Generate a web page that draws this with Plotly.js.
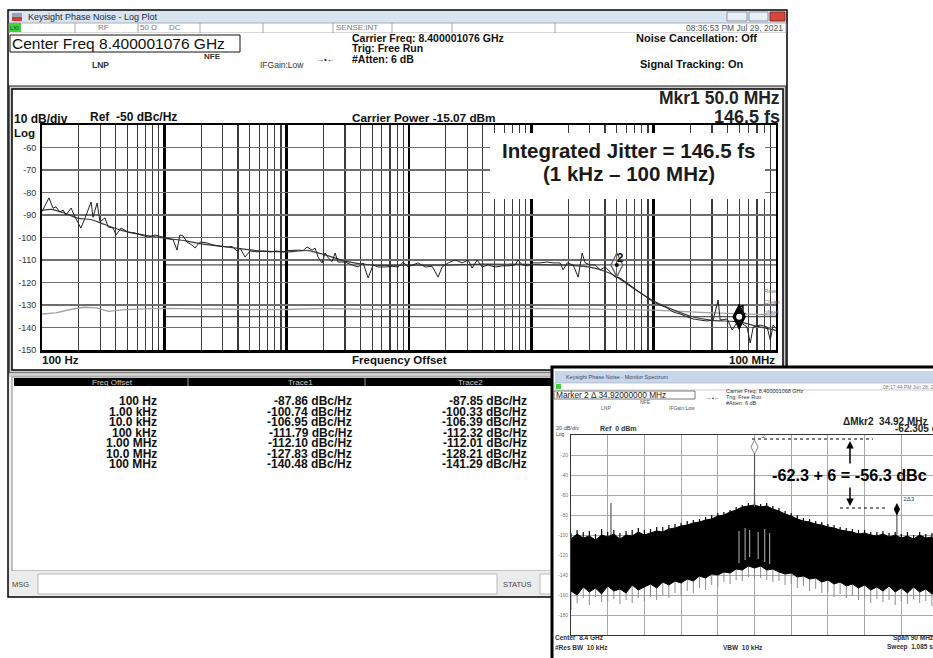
<!DOCTYPE html>
<html><head><meta charset="utf-8">
<script src="https://cdn.plot.ly/plotly-3.0.1.min.js"></script>
<style>html,body{margin:0;padding:0;background:#fff;}#chart{width:933px;height:658px;}</style>
</head><body><div id="chart"></div>
<script>
// ---------------- Main phase-noise log plot data ----------------
const trace1Freq = [100,114,123,130,140,149,157,173,186,208,225,252,261,282,298,327,347,381,403,443,505,576,645,736,839,940,1030,1180,1270,1340,1420,1530,1680,1780,1960,2230,2500,2850,3260,3580,3930,4160,4570,5020,5730,6410,7310,8340,9350,10260,11070,12390,13620,14690,16140,17070,18070,19470,20610,21830,23500,24890,26310,30060,34280,38370,42170,46340,50860,55860,63800,72780,81470,89530,98390,108100,118700,135500,154500,173000,186600,208900,238300,271800,304200,328100,360500,396100,443600,505800,576800,645700,737400,779800,841300,941600,1035000,1180000,1346000,1507000,1718000,1819000,1963000,2197000,2415000,2602000,2754000,3027000,3327000,3656000,4012000,4406000,4840000,5321000,6067000,6792000,7745000,8845000,9908000,11300000,12880000,14430000,16470000,18790000,21040000,23990000,27350000,30630000,33650000,34990000,39900000,43850000,48180000,50930000,58070000,61490000,65160000,74300000,84720000,89740000,94840000,100000000];
const trace1Level = [-88.5,-82.4,-87.0,-86.4,-88.7,-87.8,-90.0,-86.9,-90.9,-95.8,-91.3,-84.2,-91.0,-84.7,-93.0,-91.3,-95.3,-95.8,-98.9,-95.8,-97.6,-98.0,-98.9,-99.8,-98.9,-99.8,-100.2,-101.0,-105.6,-98.9,-99.2,-102.0,-103.3,-104.7,-102.0,-102.4,-103.3,-103.8,-104.2,-104.0,-106.0,-104.7,-108.7,-106.0,-106.4,-106.0,-106.4,-106.0,-106.4,-105.8,-105.6,-105.6,-105.8,-104.2,-105.6,-104.7,-108.7,-111.3,-106.9,-109.0,-110.7,-106.9,-110.9,-110.9,-112.2,-113.1,-111.3,-118.0,-112.2,-113.1,-113.1,-112.8,-113.1,-111.0,-113.0,-112.2,-111.3,-113.1,-112.8,-117.6,-113.1,-111.3,-110.0,-111.3,-110.0,-113.6,-110.0,-113.1,-112.2,-113.1,-112.6,-112.6,-112.2,-110.0,-112.2,-112.6,-111.3,-111.3,-110.9,-111.3,-111.3,-114.4,-111.3,-112.2,-117.6,-106.9,-111.3,-112.2,-112.2,-114.4,-113.1,-115.3,-117.6,-118.0,-120.2,-122.4,-124.7,-126.9,-128.7,-130.0,-131.3,-133.1,-134.0,-135.3,-136.2,-136.7,-137.1,-136.7,-127.8,-136.7,-136.2,-141.1,-137.6,-137.6,-139.8,-146.9,-139.8,-138.9,-139.8,-145.6,-138.9,-140.5];
const trace2Freq = [100,120,150,200,250,300,400,500,700,1000,1500,2000,3000,5000,7000,10000,15000,20000,30000,50000,100000,200000,400000,1000000,2000000,3000000,4000000,5000000,7000000,10000000,15000000,20000000,30000000,50000000,70000000,100000000];
const trace2Level = [-87.9,-87.5,-89.0,-91.5,-92.0,-93.5,-96.0,-97.5,-99.0,-100.3,-101.5,-102.8,-104.0,-105.5,-106.2,-106.4,-105.8,-107.5,-110.5,-112.3,-112.3,-112.3,-111.8,-112.0,-112.3,-113.2,-115.0,-117.5,-123.0,-128.2,-132.5,-135.0,-136.8,-137.5,-139.5,-141.3];
const floorFreq = [100,130,170,220,280,350,450,600,1000,2000,5000,10000,20000,50000,100000,300000,1000000,3000000,10000000,30000000,100000000];
const floorLevel = [-134.0,-133.5,-132.0,-131.0,-131.3,-132.8,-132.2,-131.8,-131.5,-131.8,-132.0,-132.0,-131.5,-132.0,-131.7,-132.0,-131.5,-131.8,-132.3,-133.5,-134.5];
const markerFreq = [50000000, 5000000];
const markerLevel = [-135.2, -112.2];
const markerName = ['1', '2'];
const integStart = 1000, integStop = 100000000;
const yTicks = [-60,-70,-80,-90,-100,-110,-120,-130,-140,-150];

// ---------------- Table ----------------
const tableFreq = ['100 Hz','1.00 kHz','10.0 kHz','100 kHz','1.00 MHz','10.0 MHz','100 MHz'];
const tableTrace1 = ['-87.86 dBc/Hz','-100.74 dBc/Hz','-106.95 dBc/Hz','-111.79 dBc/Hz','-112.10 dBc/Hz','-127.83 dBc/Hz','-140.48 dBc/Hz'];
const tableTrace2 = ['-87.85 dBc/Hz','-100.33 dBc/Hz','-106.39 dBc/Hz','-112.32 dBc/Hz','-112.01 dBc/Hz','-128.21 dBc/Hz','-141.29 dBc/Hz'];

// ---------------- Inset monitor spectrum (offset from 8.4 GHz, MHz) ----------------
const insetOffset = [-45,-43.5,-42,-40.5,-39,-37.5,-36,-34.5,-33,-31.5,-30,-28.5,-27,-25.5,-24,-22.5,-21,-19.5,-18,-16.5,-15,-13.5,-12,-10.5,-9,-7.5,-6,-4.5,-3,-1.5,0,1.5,3,4.5,6,7.5,9,10.5,12,13.5,15,16.5,18,19.5,21,22.5,24,25.5,27,28.5,30,31.5,33,34.5,36,37.5,39,40.5,42,43.5,45];
const insetUpper = [-104,-99,-103,-101,-105,-100,-102,-99,-104,-100,-101,-97,-100,-98,-96,-97,-94,-93,-91,-90,-88,-87,-85,-84,-81,-80,-77,-75,-72,-71,-70,-72,-71,-74,-76,-79,-81,-84,-86,-87,-89,-90,-92,-93,-95,-96,-97,-99,-98,-100,-101,-99,-102,-100,-103,-101,-104,-100,-103,-102,-104];
const insetSpikeHigh = [-98,-95,-97,-96,-99,-94,-97,-95,-98,-96,-95,-93,-95,-94,-92,-92,-90,-89,-88,-86,-85,-84,-82,-80,-78,-77,-75,-72,-70,-68,-67,-69,-68,-71,-73,-76,-78,-80,-83,-84,-86,-87,-89,-90,-92,-93,-94,-95,-95,-97,-97,-96,-98,-97,-99,-97,-100,-97,-99,-98,-100];
const insetLower = [-156,-160,-152,-157,-153,-159,-151,-156,-154,-158,-150,-155,-152,-149,-153,-147,-150,-146,-148,-144,-146,-141,-143,-139,-140,-137,-138,-134,-135,-131,-133,-131,-135,-134,-137,-139,-138,-142,-141,-144,-143,-147,-145,-149,-147,-151,-149,-153,-150,-155,-152,-156,-151,-157,-153,-158,-152,-157,-154,-159,-155];
const insetSpikeLow = [-175,-168,-163,-170,-162,-167,-166,-164,-169,-165,-168,-163,-166,-162,-165,-160,-163,-158,-161,-156,-158,-153,-155,-150,-152,-147,-149,-145,-146,-142,-144,-143,-145,-147,-146,-150,-149,-153,-151,-156,-154,-158,-157,-162,-159,-163,-161,-165,-163,-168,-164,-167,-165,-170,-166,-169,-164,-168,-166,-171,-167];
const innerSpurOffset = [-3.8,-2.3,-1.2,0.9,2.5,3.7];
const innerSpurTop = [-96,-93,-95,-97,-94,-98];
const innerSpurBottom = [-128,-125,-122,-124,-127,-129];
const carrierOffset = 0, carrierPeak = -12;
const spurOffset = -35.2, spurPeak = -68, spurBase = -100;
const deltaOffset = 34.92, deltaLevel = -74.3, deltaBase = -100;
const insetYTicks = [-20,-40,-60,-80,-100,-120,-140,-160,-180];

// ---------------- helpers ----------------
const W = 933, H = 658;
const F = 'Liberation Sans, Arial, sans-serif';
const px = v => v / W, py = v => 1 - v / H;
function A(text, x, y, size, o) {
  o = o || {};
  return {xref:'paper', yref:'paper', x:px(x), y:py(y), text:text, showarrow:false,
    xanchor:o.xa || 'left', yanchor:o.ya || 'middle', borderpad:0, borderwidth:0,
    font:{family:F, size:size, color:o.c || '#111', weight:o.b ? 'bold' : 'normal'}};
}
function R(x0, y0, x1, y1, fill, line, lw, layer) {
  return {type:'rect', xref:'paper', yref:'paper', x0:px(x0), x1:px(x1), y0:py(y0), y1:py(y1),
    fillcolor:fill, line:{color:line || 'rgba(0,0,0,0)', width:lw || 0}, layer:layer || 'below'};
}
function L(x0, y0, x1, y1, color, w, dash, layer) {
  return {type:'line', xref:'paper', yref:'paper', x0:px(x0), x1:px(x1), y0:py(y0), y1:py(y1),
    line:{color:color, width:w, dash:dash || 'solid'}, layer:layer || 'below'};
}

// ---------------- traces ----------------
const traces = [];
traces.push({x:floorFreq, y:floorLevel, xaxis:'x', yaxis:'y', mode:'lines', line:{color:'#a0a0a0', width:1.3}, hoverinfo:'skip'});
traces.push({x:trace2Freq, y:trace2Level, xaxis:'x', yaxis:'y', mode:'lines', line:{color:'#3a3a3a', width:1.2, shape:'spline', smoothing:0.6}, hoverinfo:'skip'});
traces.push({x:trace1Freq, y:trace1Level, xaxis:'x', yaxis:'y', mode:'lines', line:{color:'#222', width:1}, hoverinfo:'skip'});
traces.push({x:[markerFreq[1]], y:[markerLevel[1]], xaxis:'x', yaxis:'y', mode:'markers',
  marker:{symbol:'diamond-tall', size:17, color:'rgba(255,255,255,0.2)', line:{color:'#666', width:1.3}}});
traces.push({x:[markerFreq[1]], y:[markerLevel[1]], xaxis:'x', yaxis:'y', mode:'markers', marker:{symbol:'circle', size:4, color:'#000'}});
traces.push({x:[markerFreq[0]], y:[markerLevel[0]], xaxis:'x', yaxis:'y', mode:'markers',
  marker:{symbol:'diamond-tall', size:18, color:'#000', line:{color:'#000', width:1}}});
traces.push({x:[markerFreq[0]], y:[markerLevel[0]], xaxis:'x', yaxis:'y', mode:'markers', marker:{symbol:'circle', size:6, color:'#fff'}});
traces.push({x:markerFreq, y:markerLevel, xaxis:'x', yaxis:'y', mode:'text', text:markerName,
  textposition:'top right', textfont:{family:F, size:12, color:'#111', weight:'bold'}});

// inset: gray spikes below the noise mass
const spX = [], spY = [];
insetOffset.forEach((o, i) => { spX.push(o, o, null); spY.push(insetLower[i], insetSpikeLow[i], null); });
traces.push({x:spX, y:spY, xaxis:'x2', yaxis:'y2', mode:'lines', line:{color:'#8c8c8c', width:1}, connectgaps:false, hoverinfo:'skip'});
// noise mass
traces.push({x:insetOffset, y:insetLower, xaxis:'x2', yaxis:'y2', mode:'lines', line:{color:'#000', width:1}, hoverinfo:'skip'});
traces.push({x:insetOffset, y:insetUpper, xaxis:'x2', yaxis:'y2', mode:'lines', fill:'tonexty', fillcolor:'#000', line:{color:'#000', width:1}, hoverinfo:'skip'});
// black spikes on top of the mass
const hiX = [], hiY = [];
insetOffset.forEach((o, i) => { hiX.push(o, o, null); hiY.push(insetUpper[i], insetSpikeHigh[i], null); });
traces.push({x:hiX, y:hiY, xaxis:'x2', yaxis:'y2', mode:'lines', line:{color:'#000', width:1.2}, connectgaps:false, hoverinfo:'skip'});
// inner gray lines inside the mass
const inX = [], inY = [];
innerSpurOffset.forEach((o, i) => { inX.push(o, o, null); inY.push(innerSpurTop[i], innerSpurBottom[i], null); });
traces.push({x:inX, y:inY, xaxis:'x2', yaxis:'y2', mode:'lines', line:{color:'#9a9a9a', width:1.2}, hoverinfo:'skip'});
// carrier, spur, delta marker lines
traces.push({x:[carrierOffset, carrierOffset, null, spurOffset, spurOffset, null, deltaOffset, deltaOffset],
  y:[carrierPeak, -72, null, spurPeak, spurBase, null, deltaLevel, deltaBase], xaxis:'x2', yaxis:'y2', mode:'lines',
  line:{color:'#555', width:1.2}, hoverinfo:'skip'});
traces.push({x:[carrierOffset], y:[carrierPeak], xaxis:'x2', yaxis:'y2', mode:'markers+text', text:['2'], textposition:'top right',
  textfont:{family:F, size:6, color:'#444'}, marker:{symbol:'diamond-tall', size:10, color:'#fff', line:{color:'#888', width:1}}});
traces.push({x:[deltaOffset], y:[deltaLevel], xaxis:'x2', yaxis:'y2', mode:'markers+text', text:['2Δ3'], textposition:'top right',
  textfont:{family:F, size:6, color:'#444'}, marker:{symbol:'diamond-tall', size:9, color:'#000'}});

// ---------------- shapes ----------------
const shapes = [
  // main window
  R(8, 10, 787, 597, '#efefef', '#000', 1.5),
  R(9, 11, 786, 23, '#d9e4f1'),
  R(12, 13, 22, 17, '#9aa4b0'), R(12, 17, 22, 21, '#d23b32'),
  R(727, 12, 747, 21, '#e9eff7', '#8799ad', 1), R(749, 12, 768, 21, '#e9eff7', '#8799ad', 1),
  R(770, 12, 785, 21, '#d8453a', '#8a2a22', 1),
  R(9, 23, 786, 33, '#ffffff', '#9a9a9a', 0.8),
  R(9, 23, 21, 32, '#3fd23a'),
  L(75, 23, 75, 33, '#aaa', 1), L(138, 23, 138, 33, '#aaa', 1), L(200, 23, 200, 33, '#aaa', 1),
  L(263, 23, 263, 33, '#aaa', 1), L(333, 23, 333, 33, '#aaa', 1), L(392, 23, 392, 33, '#aaa', 1),
  L(452, 23, 452, 33, '#aaa', 1), L(555, 23, 555, 33, '#aaa', 1),
  R(9, 33, 786, 86, '#ffffff'),
  R(10, 35, 240, 52, '#ffffff', '#111', 1),
  // plot panel
  R(9, 86, 786, 373, '#cdcdcd', '#222', 1.2),
  R(12, 89, 783, 370, '#ffffff', '#000', 1.5),
  // table
  R(9, 373, 786, 377, '#cdcdcd'),
  R(12, 377, 786, 571, '#ffffff', '#888', 1),
  R(14, 378, 786, 386, '#000000'),
  L(188, 378, 188, 386, '#999', 1), L(365, 378, 365, 386, '#999', 1),
  R(9, 571, 786, 596, '#ececec'),
  R(38, 574, 497, 594, '#ffffff', '#aaa', 0.8),
  R(540, 574, 786, 594, '#ffffff', '#aaa', 0.8),
  // inset window
  R(552, 367, 945, 665, '#ffffff', '#000', 3),
  R(555, 371, 945, 383, '#c7d6ea'),
  R(555, 383, 945, 390, '#ffffff', '#aaa', 0.6),
  R(556, 384, 561, 389, '#3fd23a'),
  R(554, 391, 695, 399, '#ffffff', '#555', 0.8),
  // integration lines (marker levels from 1 kHz to 100 MHz)
  {type:'line', xref:'x', yref:'y', x0:integStart, x1:integStop, y0:markerLevel[1], y1:markerLevel[1], line:{color:'#555', width:1.3}, layer:'below'},
  {type:'line', xref:'x', yref:'y', x0:integStart, x1:integStop, y0:markerLevel[0], y1:markerLevel[0], line:{color:'#555', width:1.3}, layer:'below'},
  // jitter box + inset dashed guides
  R(490, 133, 765, 199, '#ffffff', null, 0, 'above'),
  L(752, 439, 873, 439, '#000', 1.2, 'dot', 'above'),
  L(840, 508, 885, 508, '#000', 1.2, 'dot', 'above')
];

// ---------------- annotations ----------------
const ann = [
  A('Keysight Phase Noise - Log Plot', 28, 17, 9, {c:'#1e2a3a'}),
  A('RF', 103, 28, 8, {c:'#777', xa:'center'}), A('50 Ω', 148, 28, 8, {c:'#777', xa:'center'}),
  A('DC', 175, 28, 8, {c:'#777', xa:'center'}), A('SENSE:INT', 357, 28, 8, {c:'#777', xa:'center'}),
  A('08:36:53 PM Jul 29, 2021', 783, 28, 8.5, {c:'#555', xa:'right'}),
  A('LXI', 10, 28, 6, {c:'#143'}),
  A('Center Freq 8.400001076 GHz', 12, 43.5, 15.5, {c:'#111'}),
  A('NFE', 212, 56, 8, {b:true, c:'#333', xa:'center'}),
  A('LNP', 100, 65, 8.5, {b:true, c:'#333', xa:'center'}),
  A('IFGain:Low', 282, 65, 8.5, {c:'#333', xa:'center'}),
  A('→•←', 325, 60, 8, {c:'#222', xa:'center'}),
  A('Carrier Freq: 8.400001076 GHz', 352, 37.5, 10.5, {b:true}),
  A('Trig: Free Run', 352, 48, 10.5, {b:true}),
  A('#Atten: 6 dB', 352, 59, 10.5, {b:true}),
  A('Noise Cancellation: Off', 636, 38, 11, {b:true}),
  A('Signal Tracking: On', 640, 64, 11, {b:true}),
  // plot panel texts
  A('Mkr1 50.0 MHz', 780, 98, 17.5, {b:true, xa:'right', c:'#222'}),
  A('146.5 fs', 780, 117, 18, {b:true, xa:'right', c:'#222'}),
  A('10 dB/div', 14, 119, 12, {b:true}),
  A('Log', 14, 133, 11.5, {b:true}),
  A('Ref  -50 dBc/Hz', 90, 116.5, 12, {b:true}),
  A('Carrier Power -15.07 dBm', 352, 118, 11.8, {b:true}),
  A('100 Hz', 42, 360, 11.5, {b:true}),
  A('Frequency Offset', 352, 360, 11.5, {b:true}),
  A('100 MHz', 775, 360, 11.5, {b:true, xa:'right'}),
  A('Integrated Jitter = 146.5 fs', 629, 150, 20.5, {b:true, xa:'center', c:'#1a1a1a'}),
  A('(1 kHz – 100 MHz)', 629, 173, 20.5, {b:true, xa:'center', c:'#1a1a1a'}),
  A('Raw', 764, 291, 6, {c:'#777'}), A('Clean', 764, 302, 6, {c:'#777'}), A('offset', 764, 312, 6, {c:'#777'}),
  // table header
  A('Freq Offset', 112, 382, 8, {c:'#ccc', xa:'center'}),
  A('Trace1', 300, 382, 8, {c:'#ccc', xa:'center'}),
  A('Trace2', 470, 382, 8, {c:'#ccc', xa:'center'}),
  A('MSG', 12, 584, 7.5, {c:'#444'}),
  A('STATUS', 503, 584, 7.5, {c:'#444'})
];
tableFreq.forEach((t, i) => {
  const y = 401 + i * 10.5;
  ann.push(A(t, 157, y, 12, {b:true, xa:'right'}));
  ann.push(A(tableTrace1[i], 352, y, 12, {b:true, xa:'right'}));
  ann.push(A(tableTrace2[i], 527, y, 12, {b:true, xa:'right'}));
});
// inset texts
ann.push(
  A('Keysight Phase Noise - Monitor Spectrum', 566, 377, 5.5, {c:'#3a4a6a'}),
  A('08:17:44 PM Jun 28, 2021', 883, 386.5, 5, {c:'#777'}),
  A('Marker 2 Δ 34.92000000 MHz', 556, 395, 8.3, {c:'#222'}),
  A('NFE', 645, 402, 5, {c:'#555', xa:'center'}),
  A('LNP', 606, 408, 5, {c:'#555', xa:'center'}),
  A('IFGain:Low', 682, 408, 5, {c:'#555', xa:'center'}),
  A('→•←', 713, 398, 6, {c:'#333', xa:'center'}),
  A('Carrier Freq: 8.400001068 GHz', 726, 391.5, 5.5, {c:'#333'}),
  A('Trig: Free Run', 726, 397, 5.5, {c:'#333'}),
  A('#Atten: 6 dB', 726, 402.5, 5.5, {c:'#333'}),
  A('ΔMkr2  34.92 MHz', 843, 421, 10, {b:true, c:'#222'}),
  A('-62.305 dB', 895, 428.5, 10, {b:true, c:'#222'}),
  A('20 dB/div', 556, 428, 5.5, {c:'#444'}),
  A('Ref  0 dBm', 600, 428, 7, {b:true, c:'#333'}),
  A('Log', 556, 433.5, 5, {c:'#444'}),
  A('-62.3 + 6 = -56.3 dBc', 772, 475, 16.2, {b:true, c:'#000'}),
  A('Center  8.4 GHz', 555, 637.5, 6.5, {b:true, c:'#333'}),
  A('#Res BW  10 kHz', 555, 647, 6.5, {b:true, c:'#333'}),
  A('VBW  10 kHz', 743, 647, 6.5, {b:true, c:'#333', xa:'center'}),
  A('Span 90 MHz', 893, 637.5, 6.5, {b:true, c:'#333'}),
  A('Sweep  1.085 s', 887, 647, 6.5, {b:true, c:'#333'}),
  {xref:'paper', yref:'paper', x:px(850), y:py(441), ax:0, ay:24, axref:'pixel', ayref:'pixel', text:'', showarrow:true, arrowhead:2, arrowsize:1, arrowwidth:1.5, arrowcolor:'#000'},
  {xref:'paper', yref:'paper', x:px(850), y:py(506), ax:0, ay:-20, axref:'pixel', ayref:'pixel', text:'', showarrow:true, arrowhead:2, arrowsize:1, arrowwidth:1.5, arrowcolor:'#000'}
);

const layout = {
  width:W, height:H, margin:{l:0, r:0, t:0, b:0}, paper_bgcolor:'#ffffff', plot_bgcolor:'rgba(0,0,0,0)',
  showlegend:false, hovermode:false,
  xaxis:{type:'log', domain:[px(42), px(776)], range:[2, 8], anchor:'y', showticklabels:false, ticks:'',
    dtick:1, showgrid:true, gridcolor:'#000', gridwidth:2.5,
    minor:{dtick:'D1', showgrid:true, gridcolor:'#3a3a3a', gridwidth:1.2, ticks:''},
    showline:true, mirror:true, linecolor:'#000', linewidth:2.5, zeroline:false, fixedrange:true},
  yaxis:{domain:[py(350), py(125)], range:[-150, -50], anchor:'x', tickvals:yTicks, ticktext:yTicks.map(String),
    showgrid:true, gridcolor:'#6e6e6e', gridwidth:1.6, ticks:'', ticklabelstandoff:2,
    tickfont:{family:F, size:9, color:'#333'}, showline:true, mirror:true, linecolor:'#000', linewidth:2, zeroline:false},
  xaxis2:{domain:[px(571), 1], range:[-45, 43.77], anchor:'y2', tick0:-45, dtick:9, showticklabels:false, ticks:'',
    showgrid:true, gridcolor:'#a8a8a8', gridwidth:1, zeroline:false, showline:true, mirror:true, linecolor:'#333', linewidth:1},
  yaxis2:{domain:[py(635), py(435)], range:[-200, 0], anchor:'x2', tickvals:insetYTicks, ticktext:insetYTicks.map(String),
    showgrid:true, gridcolor:'#a8a8a8', gridwidth:1, ticks:'', ticklabelstandoff:1, tickfont:{family:F, size:5, color:'#777'},
    zeroline:false, showline:true, mirror:true, linecolor:'#333', linewidth:1},
  shapes:shapes, annotations:ann
};
Plotly.newPlot('chart', traces, layout, {staticPlot:true, displayModeBar:false});
</script></body></html>
